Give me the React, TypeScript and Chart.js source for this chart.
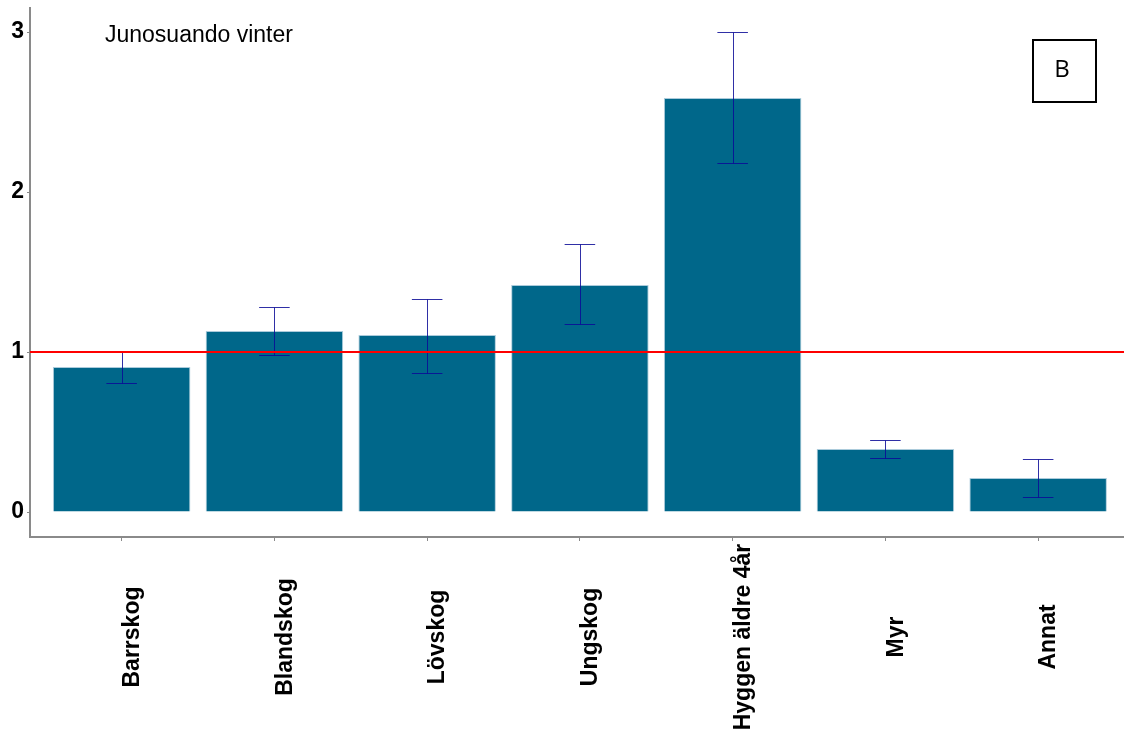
import React, { useEffect, useRef } from "react";
import { Chart, registerables } from "chart.js";

Chart.register(...registerables);

// Habitat categories and their selection ratios
const categories = [
  "Barrskog",
  "Blandskog",
  "Lövskog",
  "Ungskog",
  "Hyggen äldre 4år",
  "Myr",
  "Annat",
];
const values = [0.906, 1.131, 1.106, 1.419, 2.588, 0.394, 0.213];
const errLow = [0.806, 0.981, 0.869, 1.175, 2.18, 0.338, 0.094];
const errHigh = [1.0, 1.281, 1.331, 1.675, 3.0, 0.45, 0.331];
const yTicks = [0, 1, 2, 3];
const referenceLevel = 1;
const titleText = "Junosuando vinter";
const panelLetter = "B";

const W = 1124;
const H = 735;

export default function App() {
  const canvasRef = useRef<HTMLCanvasElement | null>(null);

  useEffect(() => {
    const canvas = canvasRef.current;
    if (!canvas) return;

    const overlay = {
      id: "overlay",
      afterDatasetsDraw(chart: any) {
        const { ctx, chartArea } = chart;
        const xs = chart.scales.x;
        const ys = chart.scales.y;
        ctx.save();
        // error bars
        ctx.strokeStyle = "rgba(10,10,150,0.85)";
        ctx.lineWidth = 1;
        categories.forEach((_, i) => {
          const x = Math.round(xs.getPixelForValue(i + 1)) + 0.5;
          const x0 = xs.getPixelForValue(i + 1 - 0.1);
          const x1 = xs.getPixelForValue(i + 1 + 0.1);
          const yl = Math.round(ys.getPixelForValue(errLow[i])) + 0.5;
          const yh = Math.round(ys.getPixelForValue(errHigh[i])) + 0.5;
          ctx.beginPath();
          ctx.moveTo(x, yl);
          ctx.lineTo(x, yh);
          ctx.moveTo(x0, yl);
          ctx.lineTo(x1, yl);
          ctx.moveTo(x0, yh);
          ctx.lineTo(x1, yh);
          ctx.stroke();
        });
        // reference line
        const yr = ys.getPixelForValue(referenceLevel);
        ctx.strokeStyle = "#FF0000";
        ctx.lineWidth = 2;
        ctx.beginPath();
        ctx.moveTo(chartArea.left, yr);
        ctx.lineTo(chartArea.right, yr);
        ctx.stroke();
        ctx.restore();
      },
      afterDraw(chart: any) {
        const { ctx } = chart;
        const xs = chart.scales.x;
        ctx.save();
        // rotated category labels
        ctx.fillStyle = "#000";
        ctx.font = "bold 23px 'Liberation Sans', Arial, sans-serif";
        ctx.textAlign = "center";
        ctx.textBaseline = "middle";
        categories.forEach((c, i) => {
          const x = xs.getPixelForValue(i + 1) + 11;
          ctx.save();
          ctx.translate(x, 637);
          ctx.rotate(-Math.PI / 2);
          ctx.fillText(c, 0, 0);
          ctx.restore();
        });
        // title
        ctx.font = "23px 'Liberation Sans', Arial, sans-serif";
        ctx.textAlign = "left";
        ctx.textBaseline = "alphabetic";
        ctx.fillText(titleText, 105, 42);
        // panel letter box
        ctx.strokeStyle = "#000";
        ctx.lineWidth = 2;
        ctx.strokeRect(1033, 40, 63, 62);
        ctx.font = "24px 'Open Sans', sans-serif";
        ctx.textAlign = "center";
        ctx.textBaseline = "middle";
        ctx.fillText(panelLetter, 1062, 70);
        ctx.restore();
      },
    };

    const pxPerCat = 152.75;
    const xMin = 0.4;
    const xMax = xMin + (W - 30) / pxPerCat;

    const axisGrey = "#8a8a8a";

    const chart = new Chart(canvas, {
      type: "bar",
      data: {
        datasets: [
          {
            data: values.map((v, i) => ({ x: i + 1, y: v })),
            backgroundColor: "#00678A",
            borderColor: "rgba(150,190,210,0.8)",
            borderWidth: 1,
            barPercentage: 0.9,
            categoryPercentage: 1,
          },
        ],
      },
      options: {
        responsive: false,
        animation: false,
        layout: { padding: { top: 8, left: 0, right: 0, bottom: 0 } },
        plugins: {
          legend: { display: false },
          tooltip: { enabled: false },
        },
        scales: {
          x: {
            type: "linear",
            min: xMin,
            max: xMax,
            offset: false,
            afterBuildTicks: (s: any) => {
              s.ticks = categories.map((_, i) => ({ value: i + 1 }));
            },
            afterFit: (s: any) => {
              s.height = 198;
              s.paddingLeft = 0;
              s.paddingRight = 0;
            },
            ticks: { display: false },
            grid: {
              offset: false,
              drawOnChartArea: false,
              drawTicks: true,
              tickLength: 4,
              color: axisGrey,
              lineWidth: 1,
            },
            border: { display: true, color: axisGrey, width: 2 },
          },
          y: {
            min: -0.156,
            max: 3.15,
            afterBuildTicks: (s: any) => {
              s.ticks = yTicks.map((v) => ({ value: v }));
            },
            afterFit: (s: any) => {
              s.width = 30;
              s.paddingTop = 0;
              s.paddingBottom = 0;
            },
            ticks: {
              color: "#000",
              padding: 3,
              font: { family: "'Liberation Sans', Arial, sans-serif", size: 23, weight: "bold" },
            },
            grid: {
              drawOnChartArea: false,
              drawTicks: true,
              tickLength: 3,
              color: axisGrey,
              lineWidth: 1,
            },
            border: { display: true, color: axisGrey, width: 2 },
          },
        },
      },
      plugins: [overlay],
    } as any);

    return () => chart.destroy();
  }, []);

  return (
    <div
      style={{
        position: "fixed",
        left: 0,
        top: 0,
        width: W,
        height: H,
        background: "#fff",
        overflow: "hidden",
      }}
    >
      <canvas ref={canvasRef} width={W} height={H} style={{ display: "block" }} />
    </div>
  );
}
